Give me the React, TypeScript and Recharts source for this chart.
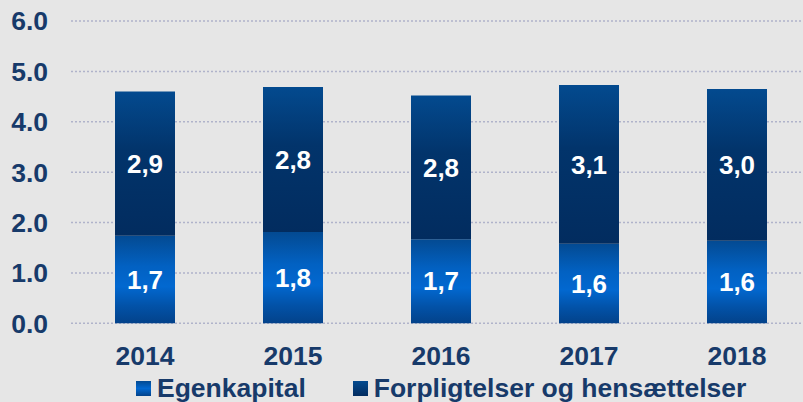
import { Bar, BarChart, CartesianGrid, LabelList, Legend, XAxis, YAxis } from "recharts";

const years = ["2014", "2015", "2016", "2017", "2018"];
const egenkapital = [1.74, 1.81, 1.67, 1.58, 1.64];
const forpligtelser = [2.86, 2.88, 2.85, 3.15, 3.01];
const egenkapitalLabels = ["1,7", "1,8", "1,7", "1,6", "1,6"];
const forpligtelserLabels = ["2,9", "2,8", "2,8", "3,1", "3,0"];
const yTicks = [0, 1, 2, 3, 4, 5, 6];

const NAVY = "#173a6a";
const FONT = "'Liberation Sans', Arial, sans-serif";

const data = years.map((year, i) => ({
  year,
  ek: egenkapital[i],
  fp: forpligtelser[i],
  ekLabel: egenkapitalLabels[i],
  fpLabel: forpligtelserLabels[i],
}));

function Gradients() {
  return (
    <defs>
      <linearGradient id="gEk" x1="0" y1="0" x2="0" y2="1">
        <stop offset="0%" stopColor="#034a92" />
        <stop offset="35%" stopColor="#0261c2" />
        <stop offset="58%" stopColor="#0268d0" />
        <stop offset="80%" stopColor="#0252a8" />
        <stop offset="100%" stopColor="#03428a" />
      </linearGradient>
      <linearGradient id="gFp" x1="0" y1="0" x2="0" y2="1">
        <stop offset="0%" stopColor="#034a8f" />
        <stop offset="40%" stopColor="#02346b" />
        <stop offset="100%" stopColor="#022c5f" />
      </linearGradient>
    </defs>
  );
}

function XTick(props: any) {
  const { x, y, payload } = props;
  return (
    <text x={x} y={y + 42} textAnchor="middle" fill={NAVY} fontSize={26.5} fontWeight="bold" fontFamily={FONT}>
      {payload.value}
    </text>
  );
}

const legendItems = [
  { name: "Egenkapital", fill: "url(#lgEk)" },
  { name: "Forpligtelser og hensættelser", fill: "url(#lgFp)" },
];

function LegendContent() {
  return (
    <div style={{ display: "flex", alignItems: "center", paddingLeft: 136, height: 28, fontFamily: FONT }}>
      {legendItems.map((item, i) => (
        <div key={item.name} style={{ display: "flex", alignItems: "center", marginRight: i === 0 ? 47 : 0 }}>
          <svg width={15} height={15} style={{ marginRight: 6 }}>
            <defs>
              <linearGradient id="lgEk" x1="0" y1="0" x2="0" y2="1">
                <stop offset="0%" stopColor="#034a92" />
                <stop offset="50%" stopColor="#0268d0" />
                <stop offset="100%" stopColor="#03428a" />
              </linearGradient>
              <linearGradient id="lgFp" x1="0" y1="0" x2="0" y2="1">
                <stop offset="0%" stopColor="#034a8f" />
                <stop offset="100%" stopColor="#022c5f" />
              </linearGradient>
            </defs>
            <rect width={15} height={15} fill={item.fill} />
          </svg>
          <span style={{ color: NAVY, fontSize: 26.5, fontWeight: "bold", lineHeight: "28px" }}>{item.name}</span>
        </div>
      ))}
    </div>
  );
}

export default function App() {
  return (
    <div
      style={{
        position: "absolute",
        left: 0,
        top: 0,
        width: 803,
        height: 402,
        overflow: "hidden",
        background: "#e6e6e6",
      }}
    >
      <BarChart
        width={830}
        height={402}
        data={data}
        margin={{ top: 21, right: 19, left: 0, bottom: 20.7 }}
        barSize={60}
      >
        <Gradients />
        <CartesianGrid vertical={false} stroke="#b0b3ca" strokeWidth={1.5} strokeDasharray="2 2" />
        <XAxis
          dataKey="year"
          axisLine={false}
          tickLine={false}
          tickSize={0}
          tickMargin={0}
          height={30}
          tick={<XTick />}
        />
        <YAxis
          domain={[0, 6]}
          ticks={yTicks}
          width={71}
          axisLine={false}
          tickLine={false}
          tickSize={0}
          tickMargin={23}
          tickFormatter={(v: number) => v.toFixed(1)}
          tick={{ fill: NAVY, fontSize: 26.5, fontWeight: "bold", fontFamily: FONT }}
        />
        <Legend
          verticalAlign="bottom"
          height={28}
          content={<LegendContent />}
          wrapperStyle={{ left: 0, width: 830, bottom: 0 }}
        />
        <Bar dataKey="ek" stackId="a" fill="url(#gEk)" isAnimationActive={false}>
          <LabelList
            dataKey="ekLabel"
            position="center"
            fill="#ffffff"
            fontSize={26}
            fontWeight="bold"
            fontFamily={FONT}
          />
        </Bar>
        <Bar dataKey="fp" stackId="a" fill="url(#gFp)" isAnimationActive={false}>
          <LabelList
            dataKey="fpLabel"
            position="center"
            fill="#ffffff"
            fontSize={26}
            fontWeight="bold"
            fontFamily={FONT}
          />
        </Bar>
      </BarChart>
    </div>
  );
}
